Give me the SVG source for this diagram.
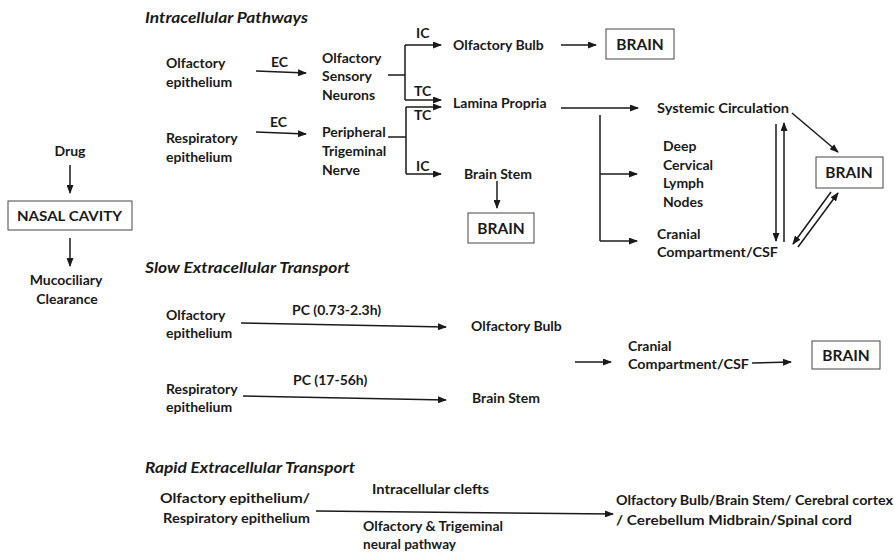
<svg xmlns="http://www.w3.org/2000/svg" width="894" height="552" viewBox="0 0 894 552">
<defs>
<marker id="ah" markerUnits="userSpaceOnUse" markerWidth="9" markerHeight="7" refX="8" refY="3.5" orient="auto">
<path d="M0,0 L9,3.5 L0,7 z" fill="#1a1a1a"/>
</marker>
<style>
text{font-family:Lato,"Liberation Sans",sans-serif;font-weight:bold;font-size:14px;fill:#1a1a1a}
.t{font-style:italic;font-size:15px}
.b{font-size:15.5px}
.c{text-anchor:middle}
line,polyline{stroke:#1a1a1a;stroke-width:1.5;fill:none}
.a{marker-end:url(#ah)}
rect{fill:#fff;stroke:#444;stroke-width:1}
</style>
</defs>
<g id="connectors">
<line class="a" x1="70" y1="165" x2="70" y2="193"/>
<line class="a" x1="70" y1="238" x2="70" y2="266"/>
<line class="a" x1="256" y1="71" x2="306" y2="73"/>
<line class="a" x1="256" y1="132" x2="306" y2="134"/>
<line x1="388" y1="75" x2="405" y2="75"/>
<line x1="405" y1="45" x2="405" y2="100"/>
<line class="a" x1="405" y1="45" x2="441" y2="45"/>
<line class="a" x1="405" y1="100" x2="441" y2="100"/>
<line x1="388" y1="137" x2="406" y2="137"/>
<line x1="406" y1="107" x2="406" y2="174"/>
<line class="a" x1="406" y1="107" x2="441" y2="107"/>
<line class="a" x1="406" y1="174" x2="441" y2="174"/>
<line class="a" x1="561" y1="45" x2="596" y2="45"/>
<line class="a" x1="497" y1="181" x2="497" y2="208"/>
<line class="a" x1="561" y1="108" x2="638" y2="108"/>
<line x1="600" y1="115" x2="600" y2="241"/>
<line class="a" x1="600" y1="174" x2="637" y2="174"/>
<line class="a" x1="600" y1="241" x2="637" y2="241"/>
<line class="a" x1="792" y1="113" x2="838" y2="152"/>
<line class="a" x1="776" y1="124" x2="776" y2="241"/>
<line class="a" x1="784" y1="242" x2="784" y2="123"/>
<line class="a" x1="831" y1="192" x2="793" y2="244"/>
<line class="a" x1="798" y1="247" x2="838" y2="193"/>
<line class="a" x1="241" y1="323" x2="446" y2="327"/>
<line class="a" x1="243" y1="396" x2="446" y2="400"/>
<line class="a" x1="575" y1="362" x2="611" y2="362"/>
<line class="a" x1="752" y1="363" x2="791" y2="362"/>
<line class="a" x1="316" y1="511" x2="613" y2="514"/>
</g>
<g id="titles">
<text class="t" x="145" y="23" textLength="163" lengthAdjust="spacingAndGlyphs">Intracellular  Pathways</text>
<text class="t" x="145" y="273" textLength="205" lengthAdjust="spacingAndGlyphs">Slow Extracellular  Transport</text>
<text class="t" x="145" y="473" textLength="210" lengthAdjust="spacingAndGlyphs">Rapid Extracellular  Transport</text>
</g>
<g id="labels">
<text x="271" y="67">EC</text>
<text x="270" y="127">EC</text>
<text x="416" y="38">IC</text>
<text x="414" y="96">TC</text>
<text x="414" y="120">TC</text>
<text x="416" y="171">IC</text>
<text x="292" y="315">PC (0.73-2.3h)</text>
<text x="293" y="385">PC (17-56h)</text>
<text x="372" y="494" textLength="117" lengthAdjust="spacingAndGlyphs">Intracellular clefts</text>
<text x="363" y="531" textLength="140" lengthAdjust="spacingAndGlyphs">Olfactory &amp; Trigeminal</text>
<text x="363" y="549" textLength="93" lengthAdjust="spacingAndGlyphs">neural pathway</text>
</g>
<g id="drug"><text class="c" x="70" y="156">Drug</text></g>
<g id="nasal"><rect x="8" y="201" width="124" height="29"/><text x="17" y="221" textLength="105" lengthAdjust="spacingAndGlyphs">NASAL CAVITY</text></g>
<g id="muco"><text class="c" x="66" y="285">Mucociliary</text><text class="c" x="67" y="304">Clearance</text></g>
<g id="olf-epi-1"><text x="166" y="68">Olfactory</text><text x="166" y="87">epithelium</text></g>
<g id="resp-epi-1"><text x="166" y="143">Respiratory</text><text x="166" y="162">epithelium</text></g>
<g id="osn"><text x="322" y="63">Olfactory</text><text x="322" y="81">Sensory</text><text x="322" y="100">Neurons</text></g>
<g id="ptn"><text x="322" y="137">Peripheral</text><text x="322" y="156">Trigeminal</text><text x="322" y="175">Nerve</text></g>
<g id="ob1"><text x="453" y="50">Olfactory Bulb</text></g>
<g id="brain1"><rect x="606" y="29" width="68" height="30"/><text class="c b" x="640" y="50">BRAIN</text></g>
<g id="lp"><text x="453" y="108">Lamina Propria</text></g>
<g id="bs1"><text x="464" y="179">Brain Stem</text></g>
<g id="brain2"><rect x="468" y="213" width="66" height="30"/><text class="c b" x="501" y="234">BRAIN</text></g>
<g id="sc"><text x="657" y="113" textLength="132" lengthAdjust="spacingAndGlyphs">Systemic Circulation</text></g>
<g id="dcln"><text x="663" y="151">Deep</text><text x="663" y="170">Cervical</text><text x="663" y="188">Lymph</text><text x="663" y="207">Nodes</text></g>
<g id="csf1"><text x="657" y="239">Cranial</text><text x="657" y="257" textLength="121" lengthAdjust="spacingAndGlyphs">Compartment/CSF</text></g>
<g id="brain3"><rect x="816" y="157" width="67" height="31"/><text class="c b" x="849" y="178">BRAIN</text></g>
<g id="olf-epi-2"><text x="166" y="320">Olfactory</text><text x="166" y="338">epithelium</text></g>
<g id="resp-epi-2"><text x="166" y="394">Respiratory</text><text x="166" y="412">epithelium</text></g>
<g id="ob2"><text x="471" y="331">Olfactory Bulb</text></g>
<g id="bs2"><text x="472" y="403">Brain Stem</text></g>
<g id="csf2"><text x="628" y="351">Cranial</text><text x="628" y="369" textLength="121" lengthAdjust="spacingAndGlyphs">Compartment/CSF</text></g>
<g id="brain4"><rect x="812" y="341" width="68" height="28"/><text class="c b" x="846" y="361">BRAIN</text></g>
<g id="epi-3"><text x="160" y="503" textLength="150" lengthAdjust="spacingAndGlyphs">Olfactory epithelium/</text><text x="163" y="523" textLength="147" lengthAdjust="spacingAndGlyphs">Respiratory epithelium</text></g>
<g id="targets"><text x="616" y="505" textLength="277" lengthAdjust="spacingAndGlyphs">Olfactory Bulb/Brain Stem/ Cerebral cortex</text><text x="616" y="525" textLength="236" lengthAdjust="spacingAndGlyphs">/ Cerebellum Midbrain/Spinal cord</text></g>
</svg>
